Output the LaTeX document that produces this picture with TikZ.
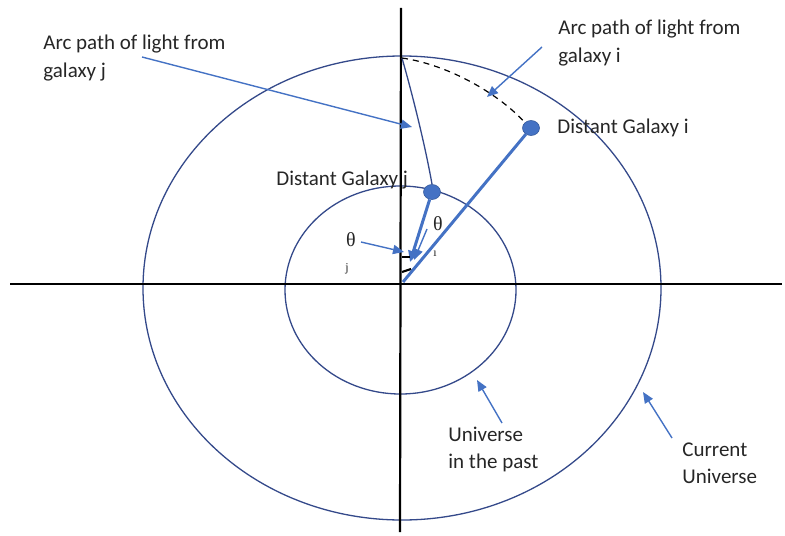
\documentclass[tikz,border=0pt]{standalone}
\usepackage{fontspec}
\setmainfont{Carlito}
\newfontfamily\thetafont{Liberation Serif}
\usetikzlibrary{arrows.meta,shapes.geometric}
\definecolor{ringblue}{HTML}{34498A}
\definecolor{ptrblue}{HTML}{4472C4}
\definecolor{txt}{HTML}{262626}
\begin{document}
\begin{tikzpicture}[x=0.5pt,y=-0.5pt,
  lbl/.style={font=\fontsize{10.5}{13.5}\selectfont, text=txt, inner sep=0pt, align=left, anchor=base west},
  thetalbl/.style={font=\thetafont\fontsize{10}{12}\selectfont, text=txt, inner sep=0pt},
  sublbl/.style={font=\thetafont\fontsize{6}{7}\selectfont, text=txt, inner sep=0pt},
  ring/.style={draw=ringblue, line width=0.65pt},
  axisline/.style={draw=black, line width=1.1pt},
  ptr/.style={draw=ptrblue, line width=0.7pt, -{Triangle[length=5.5pt,width=4.6pt]}},
  rayline/.style={draw=ptrblue, line width=1.5pt},
  dot/.style={ellipse, fill=ptrblue, draw=ptrblue!80!black, line width=0.3pt, minimum width=8.5pt, minimum height=7.5pt, inner sep=0pt},
  lightarc/.style={draw=ringblue, line width=0.65pt},
  dashedarc/.style={draw=black, line width=0.6pt, dash pattern=on 3pt off 2.5pt}
]
\useasboundingbox (0,0) rectangle (785,535);

% universes
\draw[ring] (402,288) ellipse [x radius=259, y radius=232];
\draw[ring] (400.5,290) ellipse [x radius=115.5, y radius=104];

% axes
\coordinate (xl) at (10,284);
\coordinate (xr) at (782,284);
\coordinate (yt) at (401,8);
\coordinate (yb) at (400,532);
\draw[axisline] (xl) -- (xr);
\draw[axisline] (yt) -- (yb);

% key points
\coordinate (O) at (403,282);
\coordinate (top) at (402,58);
\node[dot] (gi) at (531,128) {};
\node[dot] (gj) at (432,192) {};
\coordinate (jtip) at (410,262);

% light paths
\draw[lightarc] (top) .. controls (414,100) and (426,150) .. (gj.north);
\draw[dashedarc] (top) .. controls (450,65) and (500,95) .. (gi.north west);

% rays
\draw[rayline] (O) -- (gi);
\draw[rayline, -{Triangle[length=5.5pt,width=5pt]}] (gj) -- (jtip);

% right-angle marks
\draw[black, line width=1.1pt] (402,257) -- (410,257);
\draw[black, line width=1.1pt] (402,272) -- (411,269);

% labels
\node[lbl] (lj) at (43,77) {Arc path of light from\\galaxy j};
\node[lbl] (li) at (558,62) {Arc path of light from\\galaxy i};
\node[lbl] (ldi) at (557,133) {Distant Galaxy i};
\node[lbl] (ldj) at (276,185) {Distant Galaxy j};
\node[lbl] (lpast) at (448,468) {Universe\\in the past};
\node[lbl] (lcur) at (682,483) {Current\\Universe};
\node[thetalbl] (thj) at (351,240) {θ};
\node[sublbl] (sj) at (347,269) {j};
\node[thetalbl] (thi) at (438,224) {θ};
\node[sublbl] (si) at (435,254) {ı};

% pointer arrows
\coordinate (ljs) at (142,57);
\coordinate (ljt) at (412,127);
\coordinate (lis) at (542,47);
\coordinate (lit) at (487,97);
\coordinate (thjs) at (361,242);
\coordinate (thjt) at (404,252);
\coordinate (this) at (427,229);
\coordinate (thit) at (414,260);
\coordinate (ps) at (502,423);
\coordinate (pt) at (477,380);
\coordinate (cs) at (672,438);
\coordinate (ct) at (643,392);
\draw[ptr] (ljs) -- (ljt);
\draw[ptr] (lis) -- (lit);
\draw[ptr] (thjs) -- (thjt);
\draw[ptr] (this) -- (thit);
\draw[ptr] (ps) -- (pt);
\draw[ptr] (cs) -- (ct);
\end{tikzpicture}
\end{document}
